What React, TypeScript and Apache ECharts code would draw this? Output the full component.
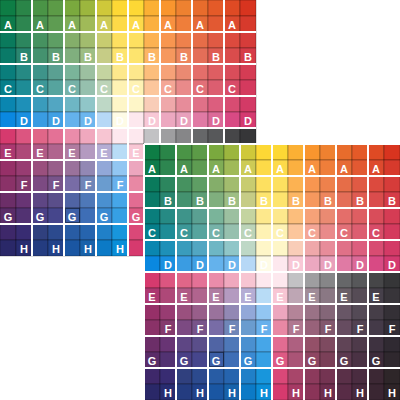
import React, { useEffect, useRef } from "react";
import * as echarts from "echarts";

const LETTERS = ["A", "B", "C", "D", "E", "F", "G", "H"];

// 16 x 16 cell colours, row by row (top to bottom)
const ROW_00 = ["#0e7d45", "#2a8548", "#4a9446", "#5c9b47", "#7aa93e", "#9cb63e", "#cfc83a", "#fdd835", "#fdd835", "#fbb034", "#f9952e", "#ee8130", "#e86c2c", "#e45a28", "#df4a24", "#d8341f"];
const ROW_01 = ["#0d7b4b", "#2d8650", "#4a9250", "#5e9c52", "#80ad56", "#a0ba58", "#cdcb56", "#fdda48", "#fdda4a", "#fbb040", "#f89140", "#ef7e3a", "#e66b36", "#e25932", "#dd4a2e", "#d73a2c"];
const ROW_02 = ["#0a7a5c", "#2c865e", "#469260", "#5e9e64", "#84ae6a", "#a2bc6e", "#c8cc70", "#fde060", "#fde060", "#fcb252", "#f89650", "#ee814c", "#e66d48", "#e05a44", "#dc4a3e", "#d63c3a"];
const ROW_03 = ["#0a7a68", "#2a8670", "#44926f", "#5e9e76", "#80af7e", "#9ebe84", "#c6cc86", "#fde46e", "#fde46e", "#fcb664", "#f6985e", "#ed865e", "#e46e58", "#df5c52", "#da4c4c", "#d63c48"];
const ROW_04 = ["#0a7e7c", "#268a84", "#3e948a", "#5aa092", "#7ab49a", "#9cc0a0", "#c4d4a0", "#fde88c", "#fde88c", "#fcbe7c", "#f6a278", "#ea8a72", "#e46e6a", "#de5e62", "#d94d5a", "#d53c54"];
const ROW_05 = ["#077f8a", "#1e8c96", "#3d9898", "#56a49e", "#76b2a8", "#96c0ae", "#bcd4b8", "#fef2b4", "#fef2b4", "#fcc69c", "#f4a696", "#e98a8a", "#e27078", "#dc5e70", "#d84c68", "#d43a5e"];
const ROW_06 = ["#0a86b0", "#1e90b8", "#3a9cbc", "#52a6c2", "#6eb6c4", "#90c6c8", "#bed8c6", "#fef6c8", "#fef6c8", "#f9cdb8", "#efa8aa", "#e78c9a", "#e07188", "#dc5e7e", "#d84c72", "#d33a66"];
const ROW_07 = ["#0a88e0", "#1a90e0", "#3a9ce2", "#40a0e4", "#64b2ec", "#6cb6ee", "#b6d8f6", "#fefbe6", "#fde8ee", "#f8c8d6", "#eca8c0", "#e8a0bc", "#e07aa4", "#dc6a98", "#d84a84", "#d43a70"];
const ROW_08 = ["#d63a6e", "#dc5580", "#e06688", "#e47196", "#ea8caa", "#f0a8be", "#f7c5d2", "#fde8ee", "#fde8ee", "#c2c2c4", "#9e9ea0", "#868688", "#666769", "#57585a", "#464648", "#363638"];
const ROW_09 = ["#ac3870", "#ae4878", "#b05a86", "#b0648e", "#b07ca0", "#b49ac0", "#b5add4", "#b8dcf6", "#f8c6d4", "#bea6b4", "#a08c98", "#8a7884", "#6a6068", "#564c56", "#46404a", "#38353a"];
const ROW_10 = ["#963068", "#983c72", "#9a507e", "#985e8a", "#9a729c", "#9288b4", "#92a8d8", "#92c6f2", "#eca6be", "#b48498", "#9a7286", "#846678", "#685666", "#544a56", "#463e48", "#343036"];
const ROW_11 = ["#8a3268", "#843a6e", "#7c4a82", "#78548a", "#786ca6", "#7086b8", "#6a9ccf", "#68b0ec", "#e888a4", "#b07890", "#98627a", "#82586e", "#664c60", "#524252", "#443a48", "#342e36"];
const ROW_12 = ["#6c2e68", "#683474", "#5e4684", "#5a4e8a", "#5064a4", "#4e78b8", "#4a90d0", "#46a6e8", "#e26c92", "#ae6080", "#945068", "#7e4a60", "#604456", "#4e3a4a", "#3e3240", "#302a32"];
const ROW_13 = ["#5a2c68", "#523272", "#4a4086", "#46468c", "#3c5ea6", "#3e6eb6", "#3a8ad2", "#36a0e4", "#de5a84", "#aa5476", "#8e4662", "#7a4058", "#5c3a50", "#4a3244", "#3c2c3a", "#2f282e"];
const ROW_14 = ["#3e286a", "#382c72", "#30407e", "#2c4a8e", "#285ca4", "#2664ae", "#2080c8", "#1896dc", "#da4878", "#a8466a", "#8c3a5c", "#743452", "#5a3048", "#4a2c40", "#3c2834", "#2e2629"];
const ROW_15 = ["#2a2868", "#282c70", "#243c80", "#22428a", "#1a56a2", "#1862aa", "#0c7ac6", "#0a8ed8", "#d63a6e", "#a63a64", "#8a3458", "#6e2e4e", "#582c46", "#482a3e", "#3a2632", "#2e2428"];

const COLORS = [ROW_00, ROW_01, ROW_02, ROW_03, ROW_04, ROW_05, ROW_06, ROW_07, ROW_08, ROW_09, ROW_10, ROW_11, ROW_12, ROW_13, ROW_14, ROW_15];

// the one cell drawn with an inset outline
const MARKED_CELL = [4, 13];

function labelFor(c: number, r: number): string {
  if (r % 2 !== 1) return "";
  const g = (r - 1) / 2;
  if (g % 2 === 0 && c % 2 === 0) return LETTERS[g];
  if (g % 2 === 1 && c % 2 === 1) return LETTERS[g];
  return "";
}

const cells: number[][] = [];
COLORS.forEach((row, r) => row.forEach((_, c) => cells.push([c, r])));

function renderItem(_params: any, api: any) {
  const c = api.value(0) as number;
  const r = api.value(1) as number;
  const p0 = api.coord([c, r]);
  const p1 = api.coord([c + 1, r + 1]);
  const x = Math.min(p0[0], p1[0]);
  const y = Math.min(p0[1], p1[1]);
  const w = Math.abs(p1[0] - p0[0]);
  const h = Math.abs(p1[1] - p0[1]);
  const children: any[] = [
    {
      type: "rect",
      shape: { x, y, width: w, height: h },
      style: { fill: COLORS[r][c], stroke: "rgba(0,0,0,0.28)", lineWidth: 1 },
    },
  ];
  if (c === MARKED_CELL[0] && r === MARKED_CELL[1]) {
    children.push({
      type: "rect",
      shape: { x: x + 1.5, y: y + 0.5, width: w - 2, height: h - 2 },
      style: { fill: "none", stroke: "rgba(0,0,0,0.4)", lineWidth: 1 },
    });
  }
  const t = labelFor(c, r);
  if (t) {
    children.push({
      type: "text",
      x: x + w / 2,
      y: y + h / 2 + 0.5,
      style: {
        text: t,
        fill: "#ffffff",
        font: "bold 11px sans-serif",
        align: "center",
        verticalAlign: "middle",
      },
    });
  }
  return { type: "group", children };
}

function axis(gridIndex: number, inverse: boolean, z: number, showMin: boolean) {
  return {
    gridIndex,
    type: "value",
    min: 0,
    max: 16,
    interval: 2,
    inverse,
    z,
    axisLine: { show: false },
    axisTick: { show: false },
    axisLabel: { show: false },
    splitLine: {
      show: true,
      showMinLine: showMin,
      showMaxLine: false,
      lineStyle: { color: "#ffffff", width: 2 },
    },
  };
}

export default function App() {
  const ref = useRef<HTMLDivElement>(null);
  useEffect(() => {
    if (!ref.current) return;
    const chart = echarts.init(ref.current, null, { renderer: "svg" });
    chart.setOption({
      animation: false,
      grid: [
        { left: 0, top: 0, width: 256, height: 256 },
        { left: 144, top: 144, width: 256, height: 256 },
      ],
      xAxis: [axis(0, false, 3, false), axis(1, false, 6, true)],
      yAxis: [axis(0, true, 3, false), axis(1, true, 6, true)],
      series: [
        { type: "custom", xAxisIndex: 0, yAxisIndex: 0, z: 2, data: cells, renderItem, clip: false },
        { type: "custom", xAxisIndex: 1, yAxisIndex: 1, z: 5, data: cells, renderItem, clip: false },
      ],
    });
    return () => chart.dispose();
  }, []);
  return (
    <div
      ref={ref}
      style={{ position: "absolute", left: 0, top: 0, width: 400, height: 400 }}
    />
  );
}
